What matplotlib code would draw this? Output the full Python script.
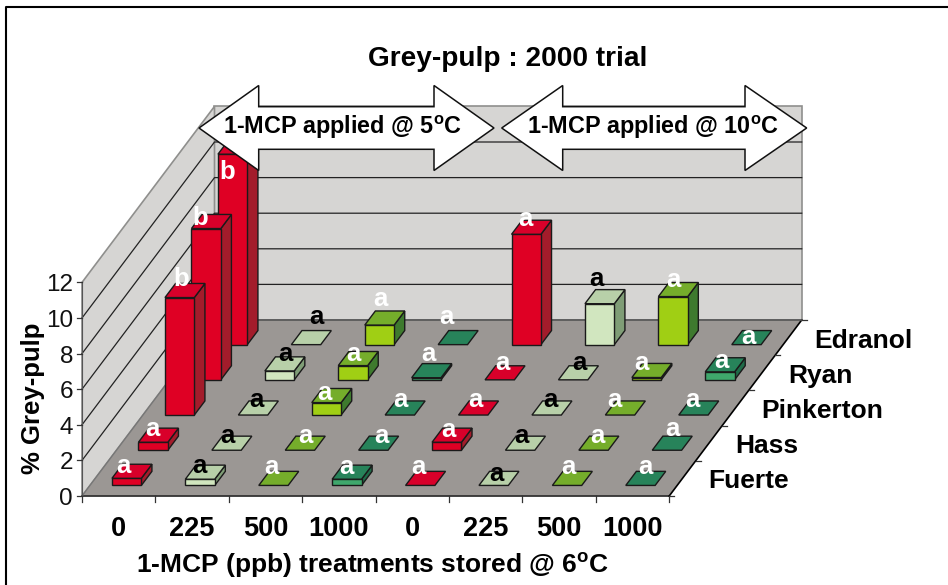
import matplotlib
matplotlib.use("Agg")
import matplotlib.pyplot as plt
from matplotlib.patches import Polygon

plt.rcParams['font.family'] = ['Liberation Sans', 'DejaVu Sans']
plt.rcParams['mathtext.fontset'] = 'custom'
plt.rcParams['mathtext.bf'] = 'Liberation Sans:bold'
plt.rcParams['mathtext.rm'] = 'Liberation Sans:bold'

# ---------- data ----------
treatments = ['0', '225', '500', '1000', '0', '225', '500', '1000']
cultivars = ['Fuerte', 'Hass', 'Pinkerton', 'Ryan', 'Edranol']
yticks = [0, 2, 4, 6, 8, 10, 12]
fuerte = [0.4, 0.35, 0, 0.35, 0, 0, 0, 0]
hass = [0.45, 0, 0, 0, 0.45, 0, 0, 0]
pinkerton = [6.6, 0, 0.7, 0, 0, 0, 0, 0]
ryan = [8.5, 0.5, 0.8, 0.12, 0, 0, 0.13, 0.45]
edranol = [10.7, 0, 1.1, 0, 6.2, 2.3, 2.7, 0]
letters_fuerte = list('aaaaaaaa')
letters_hass = list('aaaaaaaa')
letters_pinkerton = list('baaaaaaa')
letters_ryan = list('baaaaaaa')
letters_edranol = list('baaaaaaa')
title = 'Grey-pulp : 2000 trial'
xlabel = r'1-MCP (ppb) treatments stored @ 6$\mathbf{^{o}}$C'
ylabel = '% Grey-pulp'
note_left = r'1-MCP applied @ 5$\mathbf{^{o}}$C'
note_right = r'1-MCP applied @ 10$\mathbf{^{o}}$C'

rows = [fuerte, hass, pinkerton, ryan, edranol]
letters = [letters_fuerte, letters_hass, letters_pinkerton, letters_ryan, letters_edranol]

# ---------- oblique projection (figure pixels) ----------
X0, Y0 = 82.0, 496.0
CAT_W = 73.4
ROW_DX, ROW_DY = 26.5, 35.2
Z_H = 17.8
ZMAX = 12
NCAT, NROW = len(treatments), len(cultivars)


def proj(x, d, z=0.0):
    return (X0 + x * CAT_W + d * ROW_DX, Y0 - d * ROW_DY - z * Z_H)


# per-column palette: (front, top, side)
RED = ('#DF0024', '#D8002A', '#A31C2B')
PALE = ('#D1E6BF', '#B8D0A9', '#7F9D76')
BRIGHT = ('#A0CF14', '#75AD2B', '#3E7A2E')
DARK = ('#3FA76C', '#27835A', '#1F6B48')
palette = [RED, PALE, BRIGHT, DARK] * 2
label_colors = ['white', 'black', 'white', 'white'] * 2

# hand-placed label nudges of the original chart, pixels
nudge_dx = [[-3, -1, -2, 0, -2, 3, 1, 5],
            [-1, 1, 5, 8, 2, 1, 4, 5],
            [1.5, 3, -2, 1, 2, 4, -6, -1],
            [-6, 6, 0, 2.5, 3, 6, -5, 1.7],
            [-5, 10, 1, -6, -1, -3, 0, 2]]
nudge_dy = [[-14, -15, -20, -14, -20, -13, -20, -20],
            [-15, -16, -16, -16, -14, -16, -16, -23],
            [-21, -17, -11.5, -17, -17, -17, -17, -17],
            [-13, -19, -13.5, -25.6, -19, -19, -17, -12.7],
            [16, -30, -28, -30, -17, -27, -19, -10]]

fig = plt.figure(figsize=(9.48, 5.85), dpi=100)
ax = fig.add_axes([0, 0, 1, 1])
ax.set_xlim(0, 948)
ax.set_ylim(585, 0)
ax.axis('off')

# frame (top and left only: the source image is cropped there)
ax.plot([6.5, 6.5, 948], [585, 6.5, 6.5], color='black', lw=1.5, zorder=1)

# walls
WALL = '#D6D5D3'
WEDGE = '#8F8F8D'
ax.add_patch(Polygon([proj(0, NROW, 0), proj(NCAT, NROW, 0), proj(NCAT, NROW, ZMAX), proj(0, NROW, ZMAX)],
                     fc=WALL, ec=WEDGE, lw=1.2, zorder=2))
ax.add_patch(Polygon([proj(0, 0, 0), proj(0, NROW, 0), proj(0, NROW, ZMAX), proj(0, 0, ZMAX)],
                     fc=WALL, ec=WEDGE, lw=1.2, zorder=2))
for z in yticks[1:-1]:
    a, b, c = proj(0, 0, z), proj(0, NROW, z), proj(NCAT, NROW, z)
    ax.plot([a[0], b[0], c[0]], [a[1], b[1], c[1]], color='#222222', lw=0.9, zorder=3)

# floor
ax.add_patch(Polygon([proj(0, 0), proj(NCAT, 0), proj(NCAT, NROW), proj(0, NROW)],
                     fc='#9B9794', ec='none', zorder=3))
a, b, c, d = proj(0, 0), proj(NCAT, 0), proj(NCAT, NROW), proj(0, NROW)
ax.plot([a[0], b[0]], [a[1], b[1]], color='#333333', lw=1.3, zorder=4)
ax.plot([b[0], c[0]], [b[1], c[1]], color='black', lw=1.2, zorder=4)
ax.plot([d[0], c[0]], [d[1], c[1]], color='#555555', lw=1.2, zorder=4)
ax.plot([a[0], d[0]], [a[1], d[1]], color='#777777', lw=1.0, zorder=4)
ax.plot([a[0], a[0]], [a[1], proj(0, 0, ZMAX)[1]], color='#555555', lw=0.8, zorder=4)

# ticks and tick labels
TXT = dict(fontweight='bold', color='black')
for z in yticks:
    x, y = proj(0, 0, z)
    ax.plot([x - 5, x], [y, y], color='#333333', lw=0.9, zorder=4)
    ax.text(73, y + 3, str(z), ha='right', va='center', fontsize=17.5, color='#111111', zorder=9)
for i in range(NCAT + 1):
    x, y = proj(i, 0)
    ax.plot([x, x], [y, y + 6], color='#333333', lw=0.9, zorder=4)
for i, t in enumerate(treatments):
    x, y = proj(i + 0.5, 0)
    ax.text(x, 529, t, ha='center', va='center', fontsize=19.5, zorder=9, **TXT)
for j in range(NROW + 1):
    x, y = proj(NCAT, j)
    ax.plot([x, x + 5], [y, y], color='#333333', lw=0.9, zorder=4)
for j, name in enumerate(cultivars):
    x, y = proj(NCAT, j + 0.5)
    ax.text(x + 26, y + 3, name, ha='left', va='center', fontsize=19, zorder=9, **TXT)

# bars, back to front
BW, BD = 0.4, 0.4
for j in range(NROW - 1, -1, -1):
    for i in range(NCAT):
        h = rows[j][i]
        front, top, side = palette[i]
        x0, x1 = i + 0.5 - BW / 2, i + 0.5 + BW / 2
        d0, d1 = j + 0.5 - BD / 2, j + 0.5 + BD / 2
        ec = '#1a1a1a'
        if h > 0:
            ax.add_patch(Polygon([proj(x1, d0, 0), proj(x1, d1, 0), proj(x1, d1, h), proj(x1, d0, h)],
                                 fc=side, ec=ec, lw=1.0, zorder=5))
            ax.add_patch(Polygon([proj(x0, d0, 0), proj(x1, d0, 0), proj(x1, d0, h), proj(x0, d0, h)],
                                 fc=front, ec=ec, lw=1.0, zorder=5))
        ax.add_patch(Polygon([proj(x0, d0, h), proj(x1, d0, h), proj(x1, d1, h), proj(x0, d1, h)],
                             fc=top, ec=ec, lw=1.0, zorder=5))

# arrows above bars
ARROW_Y, HEAD_H, SHAFT_H = 128, 42.5, 21.3


def double_arrow(tip_l, base_l, base_r, tip_r, text, tx):
    pts = [(tip_l, ARROW_Y), (base_l, ARROW_Y - HEAD_H), (base_l, ARROW_Y - SHAFT_H),
           (base_r, ARROW_Y - SHAFT_H), (base_r, ARROW_Y - HEAD_H), (tip_r, ARROW_Y),
           (base_r, ARROW_Y + HEAD_H), (base_r, ARROW_Y + SHAFT_H), (base_l, ARROW_Y + SHAFT_H),
           (base_l, ARROW_Y + HEAD_H)]
    ax.add_patch(Polygon(pts, fc='white', ec='#111111', lw=1.1, zorder=7))
    ax.text(tx, ARROW_Y - 1, text, ha='center', va='center', fontsize=16.8, zorder=8, **TXT)


double_arrow(199, 258.7, 434, 494, note_left, 342)
double_arrow(501.7, 562.7, 745, 806.7, note_right, 653)

# significance letters
for j in range(NROW):
    for i in range(NCAT):
        h = rows[j][i]
        x, y = proj(i + 0.5, j + 0.5 - BD / 2, h)
        ax.text(x + nudge_dx[j][i], y + nudge_dy[j][i] + 2, letters[j][i], ha='center', va='center',
                fontsize=18.5, fontweight='bold', color=label_colors[i], zorder=8)

# titles
ax.text(508, 59, title, ha='center', va='center', fontsize=20.2, zorder=9, **TXT)
ax.text(372, 565, xlabel, ha='center', va='center', fontsize=19, zorder=9, **TXT)
ax.text(33, 398, ylabel, ha='center', va='center', rotation=90, fontsize=18.5, zorder=9, **TXT)

fig.savefig('out.png', dpi=100, facecolor='white')
